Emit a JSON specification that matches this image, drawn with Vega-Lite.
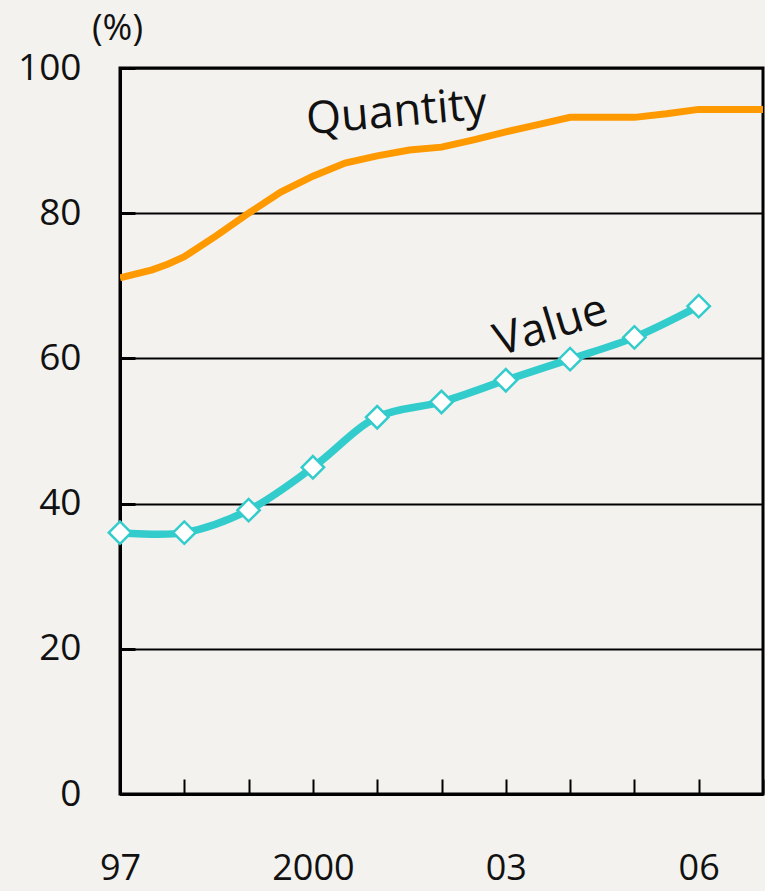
{
  "$schema": "https://vega.github.io/schema/vega-lite/v6.json",
  "width": 643,
  "height": 726,
  "autosize": {"type": "none"},
  "padding": {"left": 120, "top": 68, "right": 2, "bottom": 97},
  "background": "#f3f2ee",
  "config": {
    "view": {"stroke": "#000000", "strokeWidth": 3},
    "font": "Open Sans",
    "axis": {"labelFont": "Open Sans", "titleFont": "Open Sans", "labelColor": "#111111", "titleColor": "#111111"}
  },
  "datasets": {
    "q": [
      {"year": 1997, "pct": 71.1},
      {"year": 1997.5, "pct": 72.2},
      {"year": 1997.75, "pct": 73.0},
      {"year": 1998, "pct": 74.0},
      {"year": 1998.5, "pct": 76.9},
      {"year": 1999, "pct": 80.0},
      {"year": 1999.5, "pct": 82.9},
      {"year": 2000, "pct": 85.1},
      {"year": 2000.5, "pct": 86.9},
      {"year": 2001, "pct": 87.9},
      {"year": 2001.5, "pct": 88.7},
      {"year": 2002, "pct": 89.1},
      {"year": 2002.5, "pct": 90.1},
      {"year": 2003, "pct": 91.2},
      {"year": 2003.5, "pct": 92.2},
      {"year": 2004, "pct": 93.2},
      {"year": 2005, "pct": 93.2},
      {"year": 2005.5, "pct": 93.7},
      {"year": 2006, "pct": 94.3},
      {"year": 2007, "pct": 94.3}
    ],
    "v": [
      {"year": 1997, "pct": 36.0},
      {"year": 1998, "pct": 36.0},
      {"year": 1999, "pct": 39.1},
      {"year": 2000, "pct": 45.0},
      {"year": 2001, "pct": 51.9},
      {"year": 2002, "pct": 54.0},
      {"year": 2003, "pct": 57.0},
      {"year": 2004, "pct": 59.9},
      {"year": 2005, "pct": 62.9},
      {"year": 2006, "pct": 67.2}
    ],
    "labels": [
      {"year": 2001.3, "pct": 93.9, "text": "Quantity", "angle": -5},
      {"year": 2003.7, "pct": 64.5, "text": "Value", "angle": -17}
    ]
  },
  "layer": [
    {
      "data": {"name": "q"},
      "mark": {"type": "line", "color": "#ff9900", "strokeWidth": 7, "clip": true},
      "encoding": {
        "x": {
          "field": "year", "type": "quantitative",
          "scale": {"domain": [1997, 2007], "nice": false, "zero": false},
          "axis": {
            "values": [1997, 1998, 1999, 2000, 2001, 2002, 2003, 2004, 2005, 2006, 2007],
            "labelExpr": "datum.value == 1997 ? '97' : datum.value == 2000 ? '2000' : datum.value == 2003 ? '03' : datum.value == 2006 ? '06' : ''",
            "title": null,
            "grid": false,
            "domainColor": "#000000", "domainWidth": 3,
            "tickColor": "#000000", "tickWidth": 2, "tickSize": -15,
            "labelFontSize": 36, "labelPadding": 100, "labelBaseline": "alphabetic",
            "labelFlush": false, "labelOverlap": false
          }
        },
        "y": {
          "field": "pct", "type": "quantitative",
          "scale": {"domain": [0, 100], "nice": false},
          "axis": {
            "values": [0, 20, 40, 60, 80, 100],
            "title": "(%)", "titleAngle": 0, "titleX": -3, "titleY": -40,
            "titleAlign": "center", "titleBaseline": "middle", "titleFontSize": 36, "titleFontWeight": "normal",
            "grid": true, "gridColor": "#000000", "gridWidth": 2, "gridOpacity": 1,
            "domainColor": "#000000", "domainWidth": 3,
            "tickColor": "#000000", "tickWidth": 3, "tickSize": -15,
            "labelFontSize": 37, "labelPadding": 54, "labelBaseline": "middle",
            "labelFlush": false, "labelOverlap": false
          }
        }
      }
    },
    {
      "data": {"name": "v"},
      "mark": {"type": "line", "color": "#33cccc", "strokeWidth": 7.5, "interpolate": "catmull-rom"},
      "encoding": {
        "x": {"field": "year", "type": "quantitative"},
        "y": {"field": "pct", "type": "quantitative"}
      }
    },
    {
      "data": {"name": "v"},
      "mark": {"type": "point", "shape": "diamond", "filled": true, "fill": "#ffffff", "stroke": "#33cccc", "strokeWidth": 2.5, "size": 500, "opacity": 1},
      "encoding": {
        "x": {"field": "year", "type": "quantitative"},
        "y": {"field": "pct", "type": "quantitative"}
      }
    },
    {
      "data": {"name": "labels"},
      "mark": {"type": "text", "fontSize": 45, "color": "#111111", "align": "center", "baseline": "middle", "font": "Open Sans"},
      "encoding": {
        "x": {"field": "year", "type": "quantitative"},
        "y": {"field": "pct", "type": "quantitative"},
        "text": {"field": "text"},
        "angle": {"field": "angle", "type": "quantitative", "scale": null}
      }
    }
  ]
}
